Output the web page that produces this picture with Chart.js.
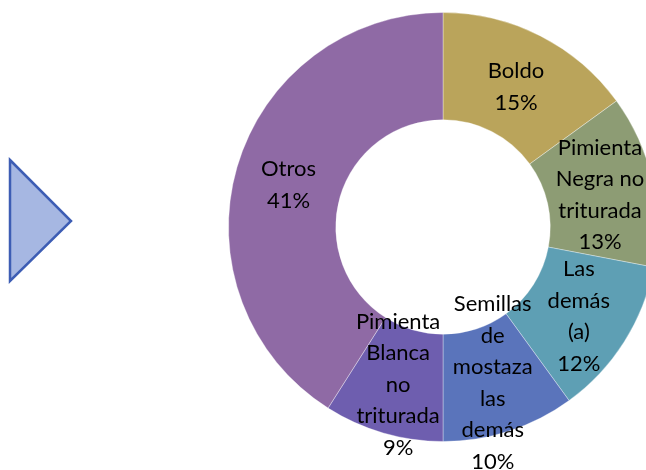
<!DOCTYPE html>
<html>
<head>
<meta charset="utf-8">
<script src="https://cdn.jsdelivr.net/npm/chart.js@4.4.0/dist/chart.umd.min.js"></script>
<style>
  html, body { margin: 0; padding: 0; background: #fff; overflow: hidden; width: 646px; height: 470px; }
  #arrow { position: absolute; left: 0; top: 0; }
  #mycanvas { position: absolute; left: 0; top: 0; }
</style>
</head>
<body>
<svg id="arrow" width="100" height="300">
  <polygon points="10,160 71,221 10,281" fill="#A6B7E2" stroke="#3D5DB4" stroke-width="2.5" stroke-linejoin="miter"/>
</svg>
<canvas id="mycanvas" width="700" height="470"></canvas>
<script>
// data
var categories = ['Boldo', 'Pimienta Negra no triturada', 'Las demás (a)', 'Semillas de mostaza las demás', 'Pimienta Blanca no triturada', 'Otros'];
var shares = [15, 13, 12, 10, 9, 41];
var labelLines = [
  ['Boldo'],
  ['Pimienta', 'Negra no', 'triturada'],
  ['Las', 'demás', '(a)'],
  ['Semillas', 'de', 'mostaza', 'las', 'demás'],
  ['Pimienta', 'Blanca', 'no', 'triturada'],
  ['Otros']
];
var colors = ['#BAA45B', '#8D9C74', '#5E9FB4', '#5A74BB', '#6E5EAF', '#8F6AA5'];

// draws "name / xx%" in the middle of each slice
var sliceLabels = {
  id: 'sliceLabels',
  afterDatasetsDraw: function(chart) {
    var ctx = chart.ctx;
    var meta = chart.getDatasetMeta(0);
    ctx.save();
    ctx.font = '22px Lato, "Open Sans", sans-serif';
    ctx.fillStyle = '#000';
    ctx.textAlign = 'center';
    ctx.textBaseline = 'middle';
    var lineH = 31.5;
    meta.data.forEach(function(arc, i) {
      var mid = (arc.startAngle + arc.endAngle) / 2;
      var r = (arc.innerRadius + arc.outerRadius) / 2;
      var x = arc.x + r * Math.cos(mid);
      var y = arc.y + r * Math.sin(mid) + 3;
      var lines = labelLines[i].concat([shares[i] + '%']);
      var top = y - (lines.length - 1) * lineH / 2;
      lines.forEach(function(t, j) {
        ctx.fillText(t, x, top + j * lineH);
      });
    });
    ctx.restore();
  }
};

var ctx = document.getElementById('mycanvas');
var donut = new Chart(ctx, {
  type: 'doughnut',
  data: {
    labels: categories,
    datasets: [{
      data: shares,
      backgroundColor: colors,
      borderColor: 'rgba(255,255,255,0.35)',
      borderWidth: 1
    }]
  },
  options: {
    responsive: false,
    animation: false,
    devicePixelRatio: 1,
    cutout: '50%',
    layout: { padding: { left: 228, right: 42, top: 12, bottom: 28 } },
    plugins: {
      legend: { display: false },
      tooltip: { enabled: false }
    }
  },
  plugins: [sliceLabels]
});
</script>
</body>
</html>
